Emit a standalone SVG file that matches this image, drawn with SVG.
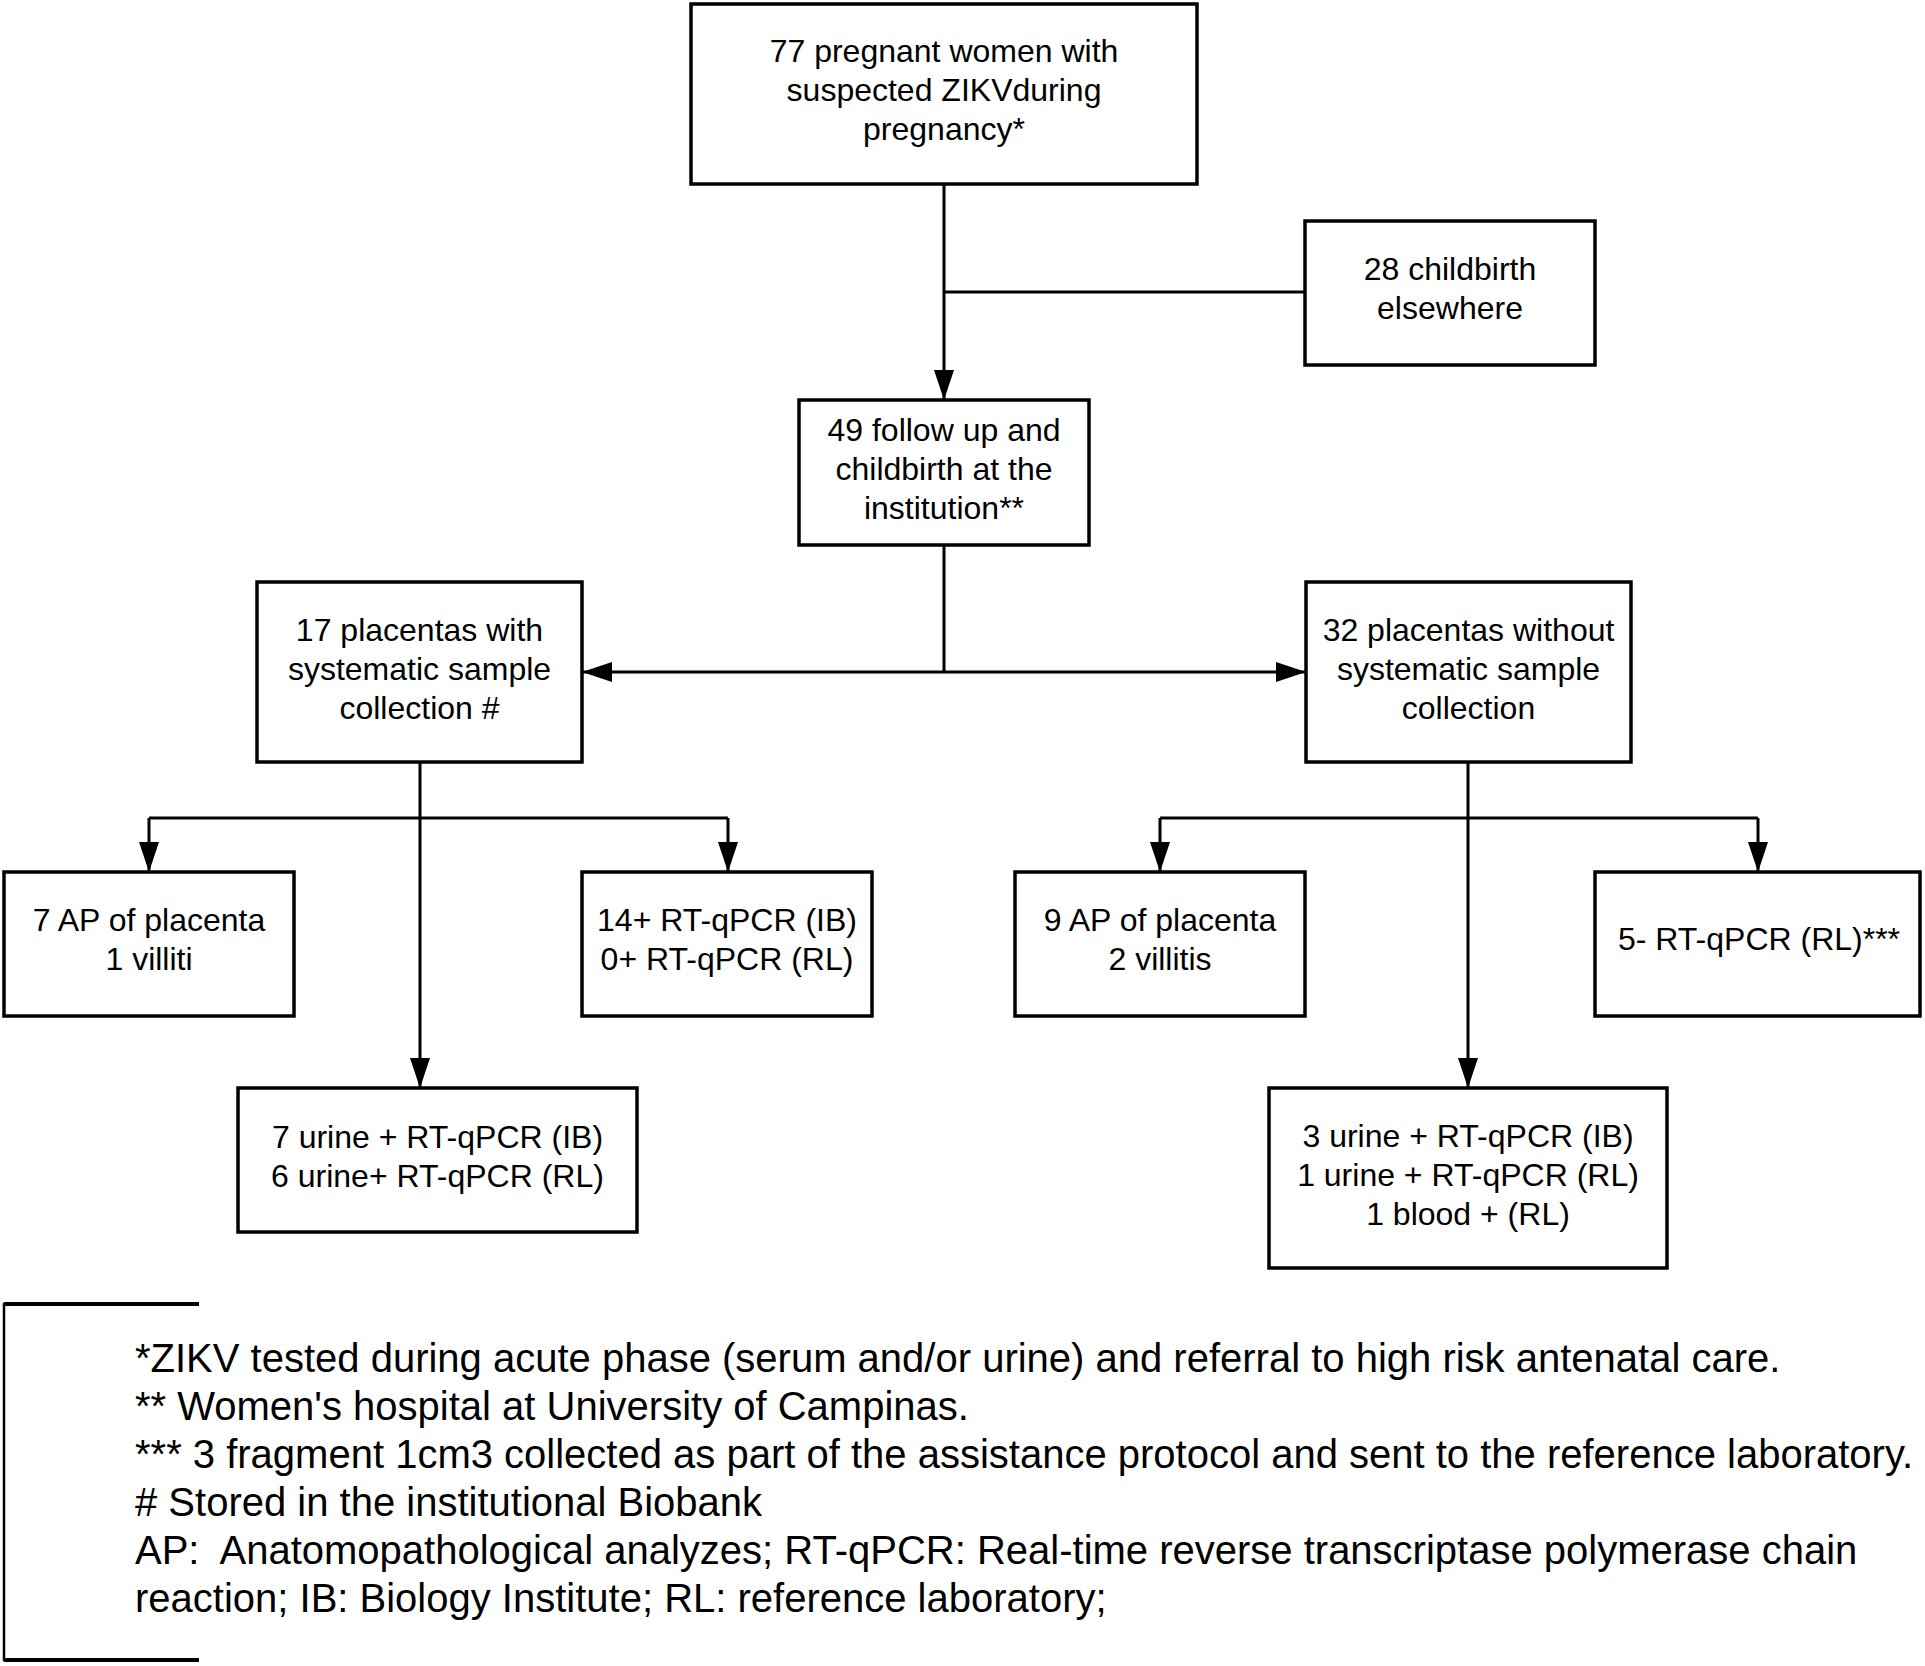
<svg xmlns="http://www.w3.org/2000/svg" width="1925" height="1666" viewBox="0 0 1925 1666">
<defs>
<style>
.box{fill:#fff;stroke:#000;stroke-width:3.5}
.t{font-family:"Liberation Sans",Arial,sans-serif;font-size:32px;fill:#000;text-anchor:middle}
.f{font-family:"Liberation Sans",Arial,sans-serif;font-size:40px;fill:#000}
.c{fill:none;stroke:#000;stroke-width:3}
</style>
<marker id="ah" markerUnits="userSpaceOnUse" markerWidth="30" markerHeight="20" refX="30" refY="10" orient="auto-start-reverse" viewBox="0 0 30 20">
<path d="M0,0 L30,10 L0,20 z" fill="#000"/>
</marker>
</defs>
<rect width="1925" height="1666" fill="#fff"/>
<g id="connectors">
<path class="c" d="M944,184 V400" marker-end="url(#ah)"/>
<path class="c" d="M944,292 H1305"/>
<path class="c" d="M944,545 V672"/>
<path class="c" d="M582,672 H1306" marker-start="url(#ah)" marker-end="url(#ah)"/>
<path class="c" d="M420,762 V1088" marker-end="url(#ah)"/>
<path class="c" d="M149,818 H728"/>
<path class="c" d="M149,818 V872" marker-end="url(#ah)"/>
<path class="c" d="M728,818 V872" marker-end="url(#ah)"/>
<path class="c" d="M1468,762 V1088" marker-end="url(#ah)"/>
<path class="c" d="M1160,818 H1758"/>
<path class="c" d="M1160,818 V872" marker-end="url(#ah)"/>
<path class="c" d="M1758,818 V872" marker-end="url(#ah)"/>
</g>
<g id="n77">
<rect class="box" x="691" y="4" width="506" height="180"/>
<text class="t" x="944" y="62">77 pregnant women with</text>
<text class="t" x="944" y="101">suspected ZIKVduring</text>
<text class="t" x="944" y="140">pregnancy*</text>
</g>
<g id="n28">
<rect class="box" x="1305" y="221" width="290" height="144"/>
<text class="t" x="1450" y="280">28 childbirth</text>
<text class="t" x="1450" y="319">elsewhere</text>
</g>
<g id="n49">
<rect class="box" x="799" y="400" width="290" height="145"/>
<text class="t" x="944" y="441">49 follow up and</text>
<text class="t" x="944" y="480">childbirth at the</text>
<text class="t" x="944" y="519">institution**</text>
</g>
<g id="n17">
<rect class="box" x="257" y="582" width="325" height="180"/>
<text class="t" x="419.5" y="641">17 placentas with</text>
<text class="t" x="419.5" y="680">systematic sample</text>
<text class="t" x="419.5" y="719">collection #</text>
</g>
<g id="n32">
<rect class="box" x="1306" y="582" width="325" height="180"/>
<text class="t" x="1468.5" y="641">32 placentas without</text>
<text class="t" x="1468.5" y="680">systematic sample</text>
<text class="t" x="1468.5" y="719">collection</text>
</g>
<g id="n7ap">
<rect class="box" x="4" y="872" width="290" height="144"/>
<text class="t" x="149" y="931">7 AP of placenta</text>
<text class="t" x="149" y="970">1 villiti</text>
</g>
<g id="n14">
<rect class="box" x="582" y="872" width="290" height="144"/>
<text class="t" x="727" y="931">14+ RT-qPCR (IB)</text>
<text class="t" x="727" y="970">0+ RT-qPCR (RL)</text>
</g>
<g id="n9ap">
<rect class="box" x="1015" y="872" width="290" height="144"/>
<text class="t" x="1160" y="931">9 AP of placenta</text>
<text class="t" x="1160" y="970">2 villitis</text>
</g>
<g id="n5">
<rect class="box" x="1595" y="872" width="325" height="144"/>
<text class="t" x="1759" y="950">5- RT-qPCR (RL)***</text>
</g>
<g id="n7u">
<rect class="box" x="238" y="1088" width="399" height="144"/>
<text class="t" x="437.5" y="1148">7 urine + RT-qPCR (IB)</text>
<text class="t" x="437.5" y="1187">6 urine+ RT-qPCR (RL)</text>
</g>
<g id="n3u">
<rect class="box" x="1269" y="1088" width="398" height="180"/>
<text class="t" x="1468" y="1147">3 urine + RT-qPCR (IB)</text>
<text class="t" x="1468" y="1186">1 urine + RT-qPCR (RL)</text>
<text class="t" x="1468" y="1225">1 blood + (RL)</text>
</g>
<g id="footnotes">
<path d="M199,1304 H4 V1660 H199" fill="none" stroke="#000" stroke-width="2.5"/>
<path d="M4,1304 H199 M4,1660 H199" fill="none" stroke="#000" stroke-width="4"/>
<text class="f" x="135" y="1372">*ZIKV tested during acute phase (serum and/or urine) and referral to high risk antenatal care.</text>
<text class="f" x="135" y="1420">** Women's hospital at University of Campinas.</text>
<text class="f" x="135" y="1468">*** 3 fragment 1cm3 collected as part of the assistance protocol and sent to the reference laboratory.</text>
<text class="f" x="135" y="1516"># Stored in the institutional Biobank</text>
<text class="f" x="135" y="1564" xml:space="preserve">AP:  Anatomopathological analyzes; RT-qPCR: Real-time reverse transcriptase polymerase chain</text>
<text class="f" x="135" y="1612">reaction; IB: Biology Institute; RL: reference laboratory;</text>
</g>
</svg>
